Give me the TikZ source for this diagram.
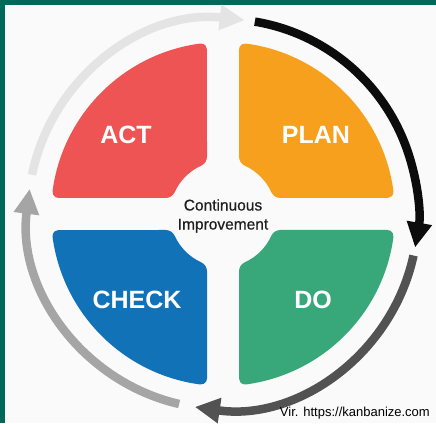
\documentclass[tikz,border=0pt]{standalone}
\usepackage{fontspec}
\setmainfont{Liberation Sans}
\newfontfamily\medfont[FakeBold=0.6]{Liberation Sans}
\usetikzlibrary{arrows.meta}
\definecolor{bgc}{RGB}{250,250,250}
\definecolor{frame}{RGB}{0,105,90}
\definecolor{actc}{RGB}{238,84,84}
\definecolor{planc}{RGB}{246,160,30}
\definecolor{checkc}{RGB}{17,114,183}
\definecolor{doc}{RGB}{56,168,122}
\definecolor{arrlight}{RGB}{228,228,228}
\definecolor{arrblack}{RGB}{12,12,12}
\definecolor{arrdark}{RGB}{82,82,82}
\definecolor{arrmid}{RGB}{165,165,165}
\definecolor{txtc}{RGB}{30,30,30}
\tikzset{
  ring/.style={line width=8.5pt, line cap=butt, -{Triangle[length=25pt,width=24pt]}},
  quadlabel/.style={text=white, font=\bfseries\fontsize{25}{25}\selectfont, inner sep=0pt},
  centerlabel/.style={text=txtc, font=\medfont\fontsize{15.5}{19}\selectfont, align=center, inner sep=0pt},
  credit/.style={text=black, font=\fontsize{13}{13}\selectfont, inner sep=0pt}
}
\begin{document}
\begin{tikzpicture}[x=1pt,y=1pt]
\useasboundingbox (0,0) rectangle (436,423);
\fill[bgc] (0,0) rectangle (436,423);
\fill[frame] (0,418) rectangle (436,423);
\fill[frame] (0,0) rectangle (5,423);
\coordinate (c) at (223,209);
% quadrants (annular sectors with filleted corners)
\foreach \ang/\col in {0/planc,90/actc,180/checkc,270/doc}{
  \fill[\col, shift={(c)}, rotate=\ang]
    (16,57.38) -- (16,164.54)
    arc[start angle=180, end angle=82.38, radius=6]
    arc[start angle=82.38, end angle=7.62, radius=172]
    arc[start angle=7.62, end angle=-90, radius=6]
    -- (57.38,16)
    arc[start angle=-90, end angle=-155.62, radius=10]
    arc[start angle=24.38, end angle=65.62, radius=53]
    arc[start angle=245.62, end angle=180, radius=10]
    -- cycle;
}
% ring arrows
\draw[ring, arrlight] (c) ++(168.4:195) arc[start angle=168.4, end angle=83.6, radius=195];
\draw[ring, arrblack] (c) ++(80.6:195) arc[start angle=80.6, end angle=-9.9, radius=195];
\draw[ring, arrdark] (c) ++(-12.3:195) arc[start angle=-12.3, end angle=-98.3, radius=195];
\draw[ring, arrmid] (c) ++(-103:195) arc[start angle=-103, end angle=-187.4, radius=195];
% labels
\node[quadlabel] (act) at (126,288) {ACT};
\node[quadlabel] (plan) at (316,288) {PLAN};
\node[quadlabel] (check) at (137,123) {CHECK};
\node[quadlabel] (do) at (313,123) {DO};
\node[centerlabel] (ci) at (223,207) {Continuous\\Improvement};
\node[credit, anchor=base east] (src) at (430,7) {Vir. https://kanbanize.com};
\end{tikzpicture}
\end{document}
